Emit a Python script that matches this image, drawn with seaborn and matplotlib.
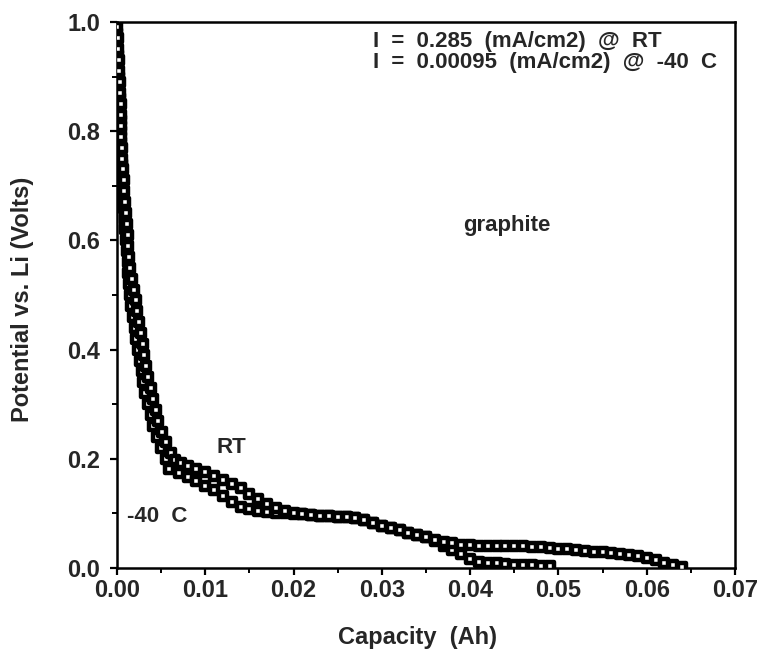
import matplotlib
matplotlib.use("Agg")
import matplotlib.pyplot as plt
import seaborn as sns
import pandas as pd
from matplotlib.ticker import MultipleLocator

# ---- data ----
rt_capacity = [
    0.0000, 0.0001, 0.0001, 0.0002, 0.0002, 0.0003, 0.0003, 0.0004, 0.0004, 0.0005,
    0.0005, 0.0006, 0.0006, 0.0007, 0.0008, 0.0008, 0.0009, 0.0010, 0.0011, 0.0012,
    0.0013, 0.0014, 0.0015, 0.0017, 0.0019, 0.0021, 0.0023, 0.0025, 0.0027, 0.0029,
    0.0031, 0.0033, 0.0035, 0.0038, 0.0041, 0.0044, 0.0047, 0.0051, 0.0056, 0.0061,
    0.0066, 0.0072, 0.0080, 0.0090, 0.0100, 0.0110, 0.0120, 0.0130, 0.0140, 0.0150,
    0.0160, 0.0170, 0.0180, 0.0190, 0.0200, 0.0210, 0.0220, 0.0230, 0.0240, 0.0250,
    0.0260, 0.0270, 0.0280, 0.0290, 0.0300, 0.0310, 0.0320, 0.0330, 0.0340, 0.0350,
    0.0360, 0.0370, 0.0380, 0.0390, 0.0400, 0.0410, 0.0420, 0.0430, 0.0440, 0.0450,
    0.0460, 0.0470, 0.0480, 0.0490, 0.0500, 0.0510, 0.0520, 0.0530, 0.0540, 0.0550,
    0.0560, 0.0570, 0.0580, 0.0590, 0.0600, 0.0610, 0.0620, 0.0630, 0.0640,
]
rt_potential = [
    0.99, 0.97, 0.95, 0.93, 0.91, 0.89, 0.87, 0.85, 0.83, 0.81,
    0.79, 0.77, 0.75, 0.73, 0.71, 0.69, 0.67, 0.65, 0.63, 0.61,
    0.59, 0.57, 0.55, 0.53, 0.51, 0.49, 0.47, 0.45, 0.43, 0.41,
    0.39, 0.37, 0.35, 0.33, 0.31, 0.29, 0.27, 0.25, 0.23, 0.21,
    0.197, 0.192, 0.186, 0.181, 0.176, 0.169, 0.161, 0.154, 0.146, 0.136,
    0.126, 0.117, 0.110, 0.104, 0.100, 0.098, 0.097, 0.096, 0.095, 0.094,
    0.093, 0.091, 0.088, 0.083, 0.077, 0.073, 0.069, 0.065, 0.061, 0.057,
    0.052, 0.048, 0.045, 0.043, 0.042, 0.041, 0.041, 0.040, 0.040, 0.040,
    0.040, 0.039, 0.039, 0.037, 0.034, 0.034, 0.033, 0.031, 0.030, 0.029,
    0.028, 0.025, 0.024, 0.022, 0.018, 0.015, 0.010, 0.005, 0.001,
]

cold_capacity = [
    0.0000, 0.0000, 0.0001, 0.0001, 0.0002, 0.0002, 0.0003, 0.0003, 0.0004, 0.0004,
    0.0005, 0.0005, 0.0006, 0.0006, 0.0007, 0.0007, 0.0008, 0.0009, 0.0009, 0.0010,
    0.0011, 0.0012, 0.0013, 0.0014, 0.0015, 0.0016, 0.0018, 0.0020, 0.0022, 0.0024,
    0.0026, 0.0028, 0.0030, 0.0032, 0.0035, 0.0038, 0.0041, 0.0045, 0.0050, 0.0055,
    0.0059, 0.0070, 0.0080, 0.0090, 0.0100, 0.0110, 0.0120, 0.0130, 0.0140, 0.0150,
    0.0160, 0.0170, 0.0180, 0.0190, 0.0200, 0.0210, 0.0220, 0.0230, 0.0240, 0.0250,
    0.0260, 0.0270, 0.0280, 0.0290, 0.0300, 0.0310, 0.0320, 0.0330, 0.0340, 0.0350,
    0.0360, 0.0370, 0.0380, 0.0390, 0.0400, 0.0410, 0.0420, 0.0430, 0.0440, 0.0450,
    0.0460, 0.0470, 0.0480, 0.0490,
]
cold_potential = [
    0.98, 0.96, 0.94, 0.92, 0.90, 0.88, 0.86, 0.84, 0.82, 0.80,
    0.78, 0.76, 0.74, 0.72, 0.70, 0.68, 0.66, 0.64, 0.62, 0.60,
    0.58, 0.56, 0.54, 0.52, 0.50, 0.48, 0.46, 0.44, 0.42, 0.40,
    0.38, 0.36, 0.34, 0.32, 0.30, 0.28, 0.26, 0.24, 0.22, 0.20,
    0.182, 0.174, 0.166, 0.159, 0.151, 0.142, 0.131, 0.120, 0.111, 0.108,
    0.105, 0.103, 0.101, 0.100, 0.099, 0.098, 0.097, 0.096, 0.095, 0.094,
    0.093, 0.091, 0.088, 0.083, 0.077, 0.073, 0.069, 0.065, 0.061, 0.057,
    0.050, 0.041, 0.033, 0.025, 0.017, 0.011, 0.010, 0.009, 0.008, 0.006,
    0.005, 0.005, 0.004, 0.003,
]

x_ticks = [0.00, 0.01, 0.02, 0.03, 0.04, 0.05, 0.06, 0.07]
x_tick_labels = ["0.00", "0.01", "0.02", "0.03", "0.04", "0.05", "0.06", "0.07"]
y_ticks = [0.0, 0.2, 0.4, 0.6, 0.8, 1.0]
y_tick_labels = ["0.0", "0.2", "0.4", "0.6", "0.8", "1.0"]

annotation_text = "I  =  0.285  (mA/cm2)  @  RT\nI  =  0.00095  (mA/cm2)  @  -40  C"

# ---- styling ----
sns.set_style("ticks")
plt.rcParams["font.family"] = ["Liberation Sans", "DejaVu Sans"]
plt.rcParams["font.weight"] = "bold"

fig = plt.figure(figsize=(7.59, 6.51), dpi=100)
ax = fig.add_axes([117 / 759, 83 / 651, 618 / 759, 546 / 651])

df_rt = pd.DataFrame({"Capacity": rt_capacity, "Potential": rt_potential})
df_cold = pd.DataFrame({"Capacity": cold_capacity, "Potential": cold_potential})

marker_kw = dict(marker="s", s=30, facecolor="white", edgecolor="black", linewidth=3.2, zorder=3)
sns.scatterplot(data=df_cold, x="Capacity", y="Potential", ax=ax, **marker_kw)
sns.scatterplot(data=df_rt, x="Capacity", y="Potential", ax=ax, **marker_kw)

ax.set_xlim(0, 0.07)
ax.set_ylim(0, 1.0)
ax.set_xticks(x_ticks)
ax.set_xticklabels(x_tick_labels)
ax.set_yticks(y_ticks)
ax.set_yticklabels(y_tick_labels)
ax.xaxis.set_minor_locator(MultipleLocator(0.005))
ax.yaxis.set_minor_locator(MultipleLocator(0.1))

for side in ["left", "bottom", "top", "right"]:
    ax.spines[side].set_visible(True)
    ax.spines[side].set_linewidth(1.8)
    ax.spines[side].set_color("black")

ax.tick_params(axis="both", which="major", direction="out", length=5, width=1.6,
               labelsize=17, color="black")
ax.tick_params(axis="both", which="minor", direction="out", length=3.5, width=1.4, color="black")
ax.tick_params(axis="x", which="major", pad=3)
ax.tick_params(axis="y", which="major", pad=7)
for lab in ax.get_xticklabels() + ax.get_yticklabels():
    lab.set_fontweight("bold")

ax.set_xlabel("Capacity  (Ah)", fontsize=17, fontweight="bold")
ax.xaxis.label.set_va("center")
ax.xaxis.set_label_coords(0.487, -0.1264)
ax.set_ylabel("Potential vs. Li (Volts)", fontsize=17, fontweight="bold")
ax.yaxis.label.set_va("center")
ax.yaxis.set_label_coords(-0.1537, 0.492)

ax.text(0.0290, 0.945, annotation_text, fontsize=16, fontweight="bold",
        ha="left", va="center", linespacing=1.0)
ax.text(0.0129, 0.220, "RT", fontsize=16, fontweight="bold", ha="center", va="center")
ax.text(0.00113, 0.095, "-40  C", fontsize=16, fontweight="bold", ha="left", va="center")
ax.text(0.0442, 0.628, "graphite", fontsize=16, fontweight="bold", ha="center", va="center")

fig.savefig("out.png", dpi=100)
